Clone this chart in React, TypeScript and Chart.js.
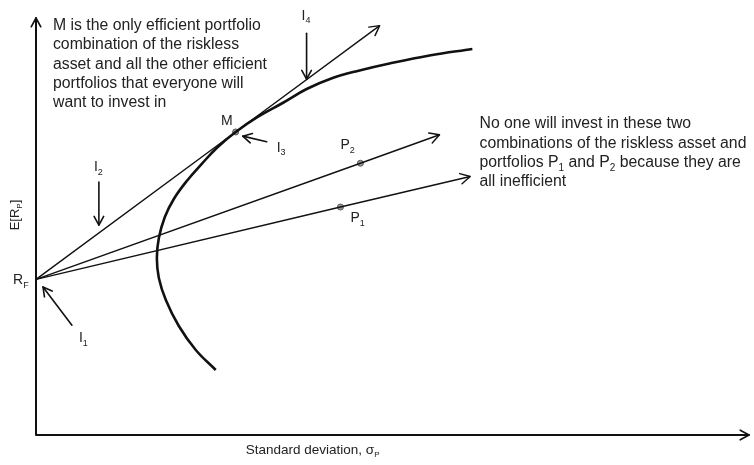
import React, { useEffect, useRef } from "react";
import { Chart, registerables } from "chart.js";

Chart.register(...registerables);

// ---- Data (σ in arbitrary units 0..100, E[R] in arbitrary units 0..60) ----
const riskFreeRate = 22.4;

const frontierSigma = [25.21, 22.41, 20.03, 18.21, 17.23, 16.95, 17.23, 18.07, 19.33, 21.15, 23.25, 25.49, 28.01, 31.09, 34.59, 37.96, 41.6, 45.38, 49.58, 55.18, 61.2];
const frontierReturn = [9.35, 12.23, 15.68, 19.42, 22.59, 25.47, 28.35, 31.37, 33.96, 36.55, 39.01, 41.44, 43.6, 45.76, 47.77, 49.78, 51.37, 52.45, 53.45, 54.6, 55.54];

const portfolioNames = ["M", "P2", "P1"];
const portfolioSigma = [28.0, 45.5, 42.7];
const portfolioReturn = [43.6, 39.1, 32.8];

const lineEndSigma = [48.2, 56.6, 60.9];
const lineEndReturn = [58.9, 43.2, 37.2];

const xMin = 0, xMax = 100, yMin = 0, yMax = 60;

// Labels: [text, sigma, return, align]
const pointLabels: [string, number, number, string][] = [
  ["M", 26.75, 45.2, "center"],
  ["P_2", 42.7, 41.7, "left"],
  ["P_1", 44.1, 31.2, "left"],
  ["R_F", -3.22, 22.3, "left"],
  ["I_4", 37.25, 60.3, "left"],
  ["I_2", 8.12, 38.56, "left"],
  ["I_3", 33.75, 41.3, "left"],
  ["I_1", 6.02, 13.96, "left"],
];

// Pointer arrows: [fromSigma, fromReturn, toSigma, toReturn]
const pointerArrows: [number, number, number, number][] = [
  [37.95, 57.8, 37.95, 51.2],
  [8.82, 36.4, 8.82, 30.2],
  [32.35, 42.2, 29.0, 43.0],
  [5.04, 15.8, 0.98, 21.3],
];

const noteMLines = [
  "M is the only efficient portfolio",
  "combination of the riskless",
  "asset and all the other efficient",
  "portfolios that everyone will",
  "want to invest in",
];
const noteMPos = [2.38, 58.85];

const noteInefficientLines = [
  "No one will invest in these two",
  "combinations of the riskless asset and",
  "portfolios P_1 and P_2 because they are",
  "all inefficient",
];
const noteInefficientPos = [62.2, 44.75];

const xTitle = "Standard deviation, σ_P";
const yTitle = "E[R_P]";

const FONT = "'Liberation Sans', Arial, sans-serif";
const TEXT_COLOR = "#222";

function parseRich(s: string) {
  const segs: { t: string; sub: boolean }[] = [];
  let buf = "";
  for (let i = 0; i < s.length; i++) {
    if (s[i] === "_" && i + 1 < s.length) {
      if (buf) segs.push({ t: buf, sub: false });
      buf = "";
      segs.push({ t: s[i + 1], sub: true });
      i++;
    } else buf += s[i];
  }
  if (buf) segs.push({ t: buf, sub: false });
  return segs;
}

function drawRich(ctx: CanvasRenderingContext2D, s: string, x: number, y: number, size: number, align: string) {
  const segs = parseRich(s);
  const subSize = Math.round(size * 0.62);
  let total = 0;
  const widths = segs.map((sg) => {
    ctx.font = `${sg.sub ? subSize : size}px ${FONT}`;
    const w = ctx.measureText(sg.t).width;
    total += w;
    return w;
  });
  let cx = align === "center" ? x - total / 2 : x;
  ctx.textBaseline = "middle";
  ctx.textAlign = "left";
  segs.forEach((sg, i) => {
    ctx.font = `${sg.sub ? subSize : size}px ${FONT}`;
    ctx.fillText(sg.t, cx, sg.sub ? y + size * 0.36 : y);
    cx += widths[i];
  });
}

function arrowHead(ctx: CanvasRenderingContext2D, x0: number, y0: number, x1: number, y1: number, len: number) {
  const a = Math.atan2(y1 - y0, x1 - x0);
  const spread = 0.5;
  ctx.beginPath();
  ctx.moveTo(x1 - len * Math.cos(a - spread), y1 - len * Math.sin(a - spread));
  ctx.lineTo(x1, y1);
  ctx.lineTo(x1 - len * Math.cos(a + spread), y1 - len * Math.sin(a + spread));
  ctx.stroke();
}

const decorPlugin = {
  id: "decor",
  afterDatasetsDraw(chart: any) {
    const ctx: CanvasRenderingContext2D = chart.ctx;
    const xs = chart.scales.x;
    const ys = chart.scales.y;
    const px = (v: number) => xs.getPixelForValue(v);
    const py = (v: number) => ys.getPixelForValue(v);
    ctx.save();
    ctx.strokeStyle = "#111";
    ctx.lineCap = "round";
    ctx.lineJoin = "round";

    // axes
    ctx.lineWidth = 2;
    ctx.beginPath();
    ctx.moveTo(px(xMin), py(yMax));
    ctx.lineTo(px(xMin), py(yMin));
    ctx.lineTo(px(xMax), py(yMin));
    ctx.stroke();
    ctx.lineWidth = 1.6;
    arrowHead(ctx, px(xMin), py(yMin), px(xMin), py(yMax), 10);
    arrowHead(ctx, px(xMin), py(yMin), px(xMax), py(yMin), 10);

    // arrowheads on capital allocation lines
    ctx.lineWidth = 1.4;
    for (let i = 0; i < lineEndSigma.length; i++) {
      arrowHead(ctx, px(0), py(riskFreeRate), px(lineEndSigma[i]), py(lineEndReturn[i]), 11);
    }

    // pointer arrows
    ctx.lineWidth = 1.6;
    pointerArrows.forEach(([a, b, c, d]) => {
      ctx.beginPath();
      ctx.moveTo(px(a), py(b));
      ctx.lineTo(px(c), py(d));
      ctx.stroke();
      arrowHead(ctx, px(a), py(b), px(c), py(d), 10);
    });

    // labels
    ctx.fillStyle = TEXT_COLOR;
    pointLabels.forEach(([t, s, r, al]) => drawRich(ctx, t, px(s), py(r), 14, al));

    noteMLines.forEach((l, i) => drawRich(ctx, l, px(noteMPos[0]), py(noteMPos[1]) + i * 19.1, 15.8, "left"));
    noteInefficientLines.forEach((l, i) =>
      drawRich(ctx, l, px(noteInefficientPos[0]), py(noteInefficientPos[1]) + i * 19.3, 15.8, "left")
    );

    // axis titles
    drawRich(ctx, xTitle, px(38.8), py(yMin) + 15, 13.5, "center");
    ctx.save();
    ctx.translate(px(xMin) - 21, py(31.65));
    ctx.rotate(-Math.PI / 2);
    drawRich(ctx, yTitle, 0, 0, 13, "center");
    ctx.restore();

    ctx.restore();
  },
};

export default function App() {
  const ref = useRef<HTMLCanvasElement | null>(null);
  useEffect(() => {
    if (!ref.current) return;
    const rf = { x: 0, y: riskFreeRate };
    const lineDatasets = lineEndSigma.map((s, i) => ({
      label: "CAL " + portfolioNames[i],
      data: [rf, { x: portfolioSigma[i], y: portfolioReturn[i] }, { x: s, y: lineEndReturn[i] }],
      showLine: true,
      borderColor: "#111",
      borderWidth: 1.4,
      pointRadius: 0,
      tension: 0,
      clip: false as any,
    }));
    const chart = new Chart(ref.current, {
      type: "scatter",
      data: {
        datasets: [
          {
            label: "Efficient frontier",
            data: frontierSigma.map((s, i) => ({ x: s, y: frontierReturn[i] })),
            showLine: true,
            borderColor: "#111",
            borderWidth: 2.6,
            pointRadius: 0,
            tension: 0.4,
            clip: false as any,
          },
          ...lineDatasets,
          {
            label: "Portfolios",
            data: portfolioSigma.map((s, i) => ({ x: s, y: portfolioReturn[i] })),
            pointRadius: 3,
            pointBackgroundColor: "#9a9a9a",
            pointBorderColor: "#555",
            pointBorderWidth: 1,
            clip: false as any,
          },
        ],
      },
      options: {
        animation: false,
        responsive: false,
        devicePixelRatio: 1,
        layout: { padding: { left: 36, top: 18, right: 4, bottom: 30 } },
        plugins: { legend: { display: false }, tooltip: { enabled: false } },
        scales: {
          x: { type: "linear", min: xMin, max: xMax, display: false },
          y: { type: "linear", min: yMin, max: yMax, display: false },
        },
      },
      plugins: [decorPlugin],
    });
    return () => chart.destroy();
  }, []);
  return (
    <div style={{ position: "absolute", left: 0, top: 0, width: 754, height: 465, background: "#fff" }}>
      <canvas ref={ref} width={754} height={465} />
    </div>
  );
}
